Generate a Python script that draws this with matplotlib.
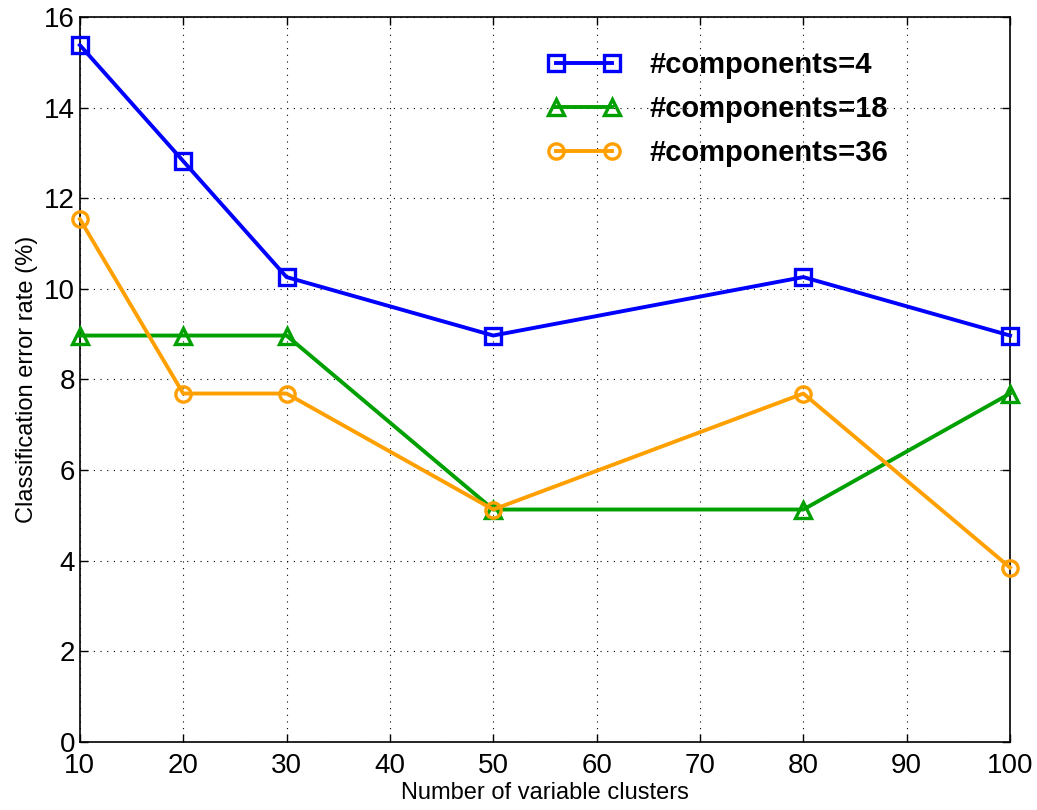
import matplotlib
matplotlib.use("Agg")
import matplotlib.pyplot as plt

# number of variable clusters
clusters = [10, 20, 30, 50, 80, 100]

# classification error rate (%) per number of components
err_c4 = [15.38, 12.82, 10.26, 8.97, 10.26, 8.97]
err_c18 = [8.97, 8.97, 8.97, 5.13, 5.13, 7.69]
err_c36 = [11.54, 7.69, 7.69, 5.13, 7.69, 3.85]

labels = ["#components=4", "#components=18", "#components=36"]

plt.rcParams["font.family"] = ["Liberation Sans", "DejaVu Sans"]

fig = plt.figure(figsize=(10.37, 8.10), dpi=100)
ax = fig.add_axes([0.077, 0.084, 0.897, 0.895])

style = dict(linewidth=2.8, markersize=11, markeredgewidth=2.4,
             markerfacecolor="none", clip_on=False, zorder=3)
ax.plot(clusters, err_c4, "s-", color="#0000ff", label=labels[0], **style)
ax.plot(clusters, err_c18, "^-", color="#00a000", label=labels[1], **style)
ax.plot(clusters, err_c36, "o-", color="#ffa000", label=labels[2], **style)

ax.set_xlim(10, 100)
ax.set_ylim(0, 16)
ax.set_xticks(range(10, 101, 10))
ax.set_yticks(range(0, 17, 2))
ax.tick_params(direction="in", labelsize=20, length=6, width=1,
               top=True, right=True)
ax.tick_params(axis="x", pad=8)
ax.grid(True, linestyle=(0, (1, 5)), color="black", linewidth=0.8)
for s in ax.spines.values():
    s.set_linewidth(1.2)

ax.set_xlabel("Number of variable clusters", fontsize=17, labelpad=2)
ax.set_ylabel("Classification error rate (%)", fontsize=17, labelpad=4)

leg = ax.legend(loc="upper left", bbox_to_anchor=(0.503, 0.953), frameon=False,
                numpoints=2, handlelength=2.5, borderpad=0, borderaxespad=0,
                prop={"weight": "bold", "size": 21},
                labelspacing=0.55, handletextpad=1.0)

fig.savefig("out.png", dpi=100)
